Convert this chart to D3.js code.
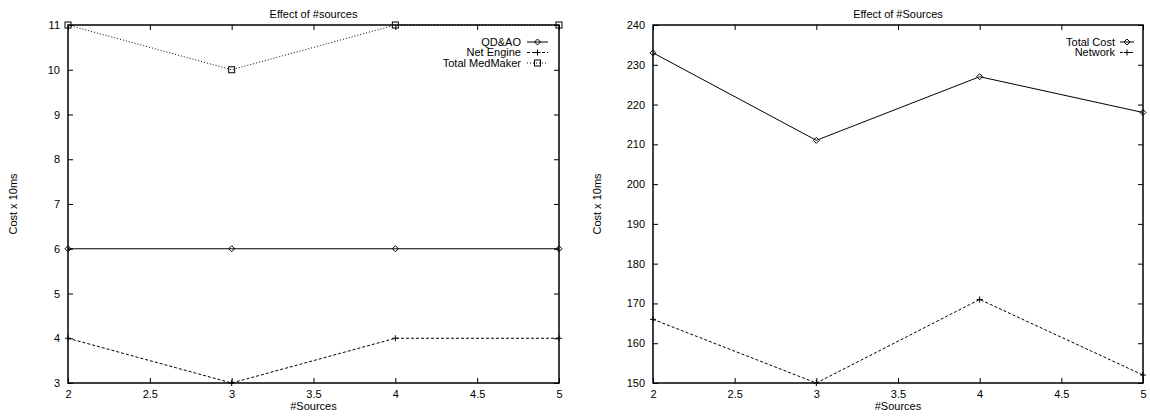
<!DOCTYPE html>
<html lang="en">
<head>
<meta charset="utf-8">
<title>Effect of sources</title>
<script src="https://d3js.org/d3.v7.min.js"></script>
<style>
  body { margin: 0; background: #fff; }
  text { font-family: "Liberation Sans", Arial, sans-serif; font-size: 11px; fill: #000; }
</style>
</head>
<body>
<script>
// x positions (number of sources)
var sources = [2, 3, 4, 5];

// left panel series
var qdao = [6, 6, 6, 6];
var netEngine = [4, 3, 4, 4];
var totalMedMaker = [11, 10, 11, 11];

// right panel series
var totalCost = [233, 211, 227, 218];
var network = [166, 150, 171, 152];

var xTicks = [2, 2.5, 3, 3.5, 4, 4.5, 5];
var leftYTicks = [3, 4, 5, 6, 7, 8, 9, 10, 11];
var rightYTicks = [150, 160, 170, 180, 190, 200, 210, 220, 230, 240];

var W = 1150, H = 417;
var svg = d3.select("body").append("svg")
  .attr("width", W).attr("height", H);

var panels = [
  {
    x0: 68, x1: 559, title: "Effect of #sources",
    yDomain: [3, 11], yTicks: leftYTicks, ylabX: 13,
    legendTextX: 521, sampleX0: 527, sampleX1: 548,
    series: [
      {name: "QD&AO", values: qdao, dash: null, marker: "diamond"},
      {name: "Net Engine", values: netEngine, dash: "3,2", marker: "plus"},
      {name: "Total MedMaker", values: totalMedMaker, dash: "1,2", marker: "square"}
    ]
  },
  {
    x0: 653, x1: 1143, title: "Effect of #Sources",
    yDomain: [150, 240], yTicks: rightYTicks, ylabX: 597,
    legendTextX: 1115, sampleX0: 1120, sampleX1: 1134,
    series: [
      {name: "Total Cost", values: totalCost, dash: null, marker: "diamond"},
      {name: "Network", values: network, dash: "3,2", marker: "plus"}
    ]
  }
];

var plotTop = 25, plotBottom = 383;

function drawMarker(g, type, cx, cy) {
  if (type === "diamond") {
    g.append("path")
      .attr("d", "M" + cx + "," + (cy - 3) + "L" + (cx + 3) + "," + cy +
                 "L" + cx + "," + (cy + 3) + "L" + (cx - 3) + "," + cy + "Z")
      .attr("fill", "none").attr("stroke", "#000").attr("stroke-width", 1);
  } else if (type === "plus") {
    g.append("path")
      .attr("d", "M" + (cx - 3) + "," + cy + "H" + (cx + 3) + "M" + cx + "," + (cy - 3) + "V" + (cy + 3))
      .attr("fill", "none").attr("stroke", "#000").attr("stroke-width", 1);
  } else {
    g.append("rect")
      .attr("x", cx - 3).attr("y", cy - 3).attr("width", 6).attr("height", 6)
      .attr("fill", "none").attr("stroke", "#000").attr("stroke-width", 1);
  }
}

panels.forEach(function(p) {
  var x = d3.scaleLinear().domain([2, 5]).range([p.x0, p.x1]);
  var y = d3.scaleLinear().domain(p.yDomain).range([plotBottom, plotTop]);
  var g = svg.append("g");

  // axes, ticks pointing inward, mirrored on top/right
  var axB = g.append("g").attr("transform", "translate(0," + plotBottom + ")")
    .call(d3.axisBottom(x).tickValues(xTicks).tickSize(-5).tickPadding(7).tickFormat(d3.format("")));
  var axT = g.append("g").attr("transform", "translate(0," + plotTop + ")")
    .call(d3.axisTop(x).tickValues(xTicks).tickSize(-5).tickFormat(""));
  var axL = g.append("g").attr("transform", "translate(" + p.x0 + ",0)")
    .call(d3.axisLeft(y).tickValues(p.yTicks).tickSize(-5).tickPadding(8));
  var axR = g.append("g").attr("transform", "translate(" + p.x1 + ",0)")
    .call(d3.axisRight(y).tickValues(p.yTicks).tickSize(-5).tickFormat(""));

  [axB, axT, axL, axR].forEach(function(a) {
    a.select(".domain").remove();
    a.selectAll("line").attr("stroke", "#000");
    a.selectAll("text").attr("font-family", "Liberation Sans, Arial, sans-serif")
      .attr("font-size", 11).attr("fill", "#000");
  });
  axB.selectAll("text").attr("dy", "0.35em").attr("y", 11);

  g.append("rect")
    .attr("x", p.x0).attr("y", plotTop)
    .attr("width", p.x1 - p.x0).attr("height", plotBottom - plotTop)
    .attr("fill", "none").attr("stroke", "#000").attr("stroke-width", 1.5);

  // title and axis labels
  g.append("text").attr("x", (p.x0 + p.x1) / 2).attr("y", 14)
    .attr("text-anchor", "middle").attr("dy", "0.35em").text(p.title);
  g.append("text").attr("x", (p.x0 + p.x1) / 2).attr("y", 406)
    .attr("text-anchor", "middle").attr("dy", "0.35em").text("#Sources");
  g.append("text")
    .attr("transform", "translate(" + p.ylabX + "," + ((plotTop + plotBottom) / 2) + ") rotate(-90)")
    .attr("text-anchor", "middle").attr("dy", "0.35em").text("Cost x 10ms");

  var line = d3.line()
    .x(function(d, i) { return x(sources[i]); })
    .y(function(d) { return y(d); });

  p.series.forEach(function(s, k) {
    g.append("path").datum(s.values)
      .attr("d", line)
      .attr("fill", "none").attr("stroke", "#000").attr("stroke-width", 1)
      .attr("stroke-dasharray", s.dash);
    s.values.forEach(function(v, i) {
      drawMarker(g, s.marker, x(sources[i]), y(v));
    });

    // legend
    var ly = 42 + k * 10.5;
    g.append("text").attr("x", p.legendTextX).attr("y", ly)
      .attr("text-anchor", "end").attr("dy", "0.35em").text(s.name);
    g.append("line").attr("x1", p.sampleX0).attr("x2", p.sampleX1)
      .attr("y1", ly).attr("y2", ly)
      .attr("stroke", "#000").attr("stroke-width", 1)
      .attr("stroke-dasharray", s.dash);
    drawMarker(g, s.marker, (p.sampleX0 + p.sampleX1) / 2, ly);
  });
});
</script>
</body>
</html>
